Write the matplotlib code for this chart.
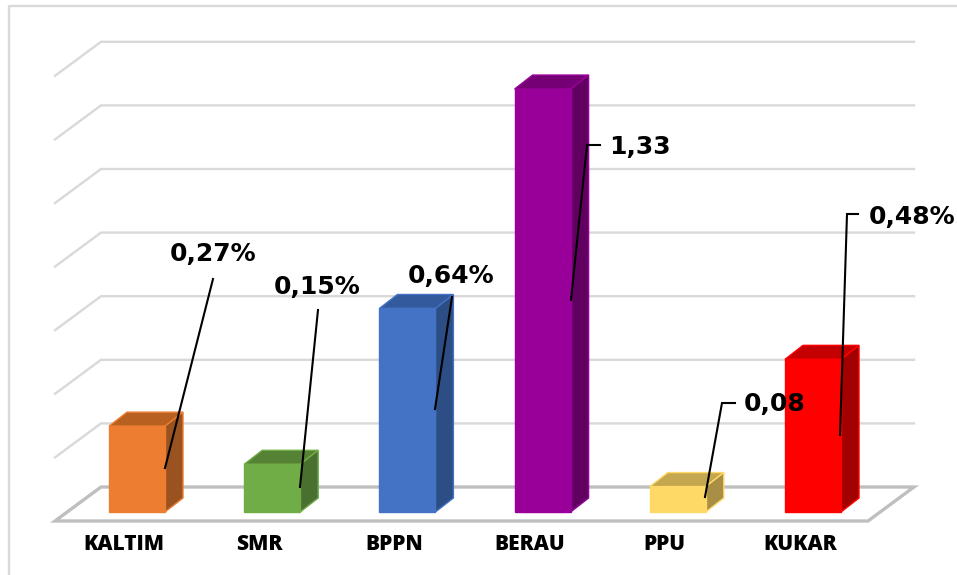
import matplotlib
matplotlib.use('Agg')
import matplotlib.pyplot as plt
from matplotlib.patches import Polygon
from matplotlib.transforms import IdentityTransform

categories = ['KALTIM', 'SMR', 'BPPN', 'BERAU', 'PPU', 'KUKAR']
values = [0.27, 0.15, 0.64, 1.33, 0.08, 0.48]
value_labels = ['0,27%', '0,15%', '0,64%', '1,33', '0,08', '0,48%']
gridlines = [0.0, 0.2, 0.4, 0.6, 0.8, 1.0, 1.2, 1.4]

front_colors = ['#ED7D31', '#70AD47', '#4472C4', '#990099', '#FFD966', '#FF0000']
top_colors = ['#B8601F', '#568235', '#335A9C', '#750075', '#C4A74E', '#C40000']
side_colors = ['#9A5220', '#497030', '#2C4E85', '#620062', '#A88F45', '#A30000']

W, H = 957, 575
X0, STEP = 137, 135.2   # pixel of first bar centre, pixels per category
Y0, SCALE = 512, 318    # pixel of value 0 on the front plane, pixels per unit


def x_units(p):
    return p / STEP


def y_units(p):
    return p / SCALE


fig = plt.figure(figsize=(W / 100, H / 100), dpi=100)
ax = fig.add_axes([0, 0, 1, 1])
ax.set_xlim(-X0 / STEP, (W - X0) / STEP)
ax.set_ylim(-(H - Y0) / SCALE, Y0 / SCALE)
ax.axis('off')

# back wall and floor, the wall sits 25px up and the floor runs out to the left
wall_dy = y_units(25)
left = x_units(101 - X0)
right = x_units(914 - X0)
slant_x = x_units(46)
slant_y = y_units(34)
for g in gridlines[1:]:
    ax.plot([left - slant_x, left, right], [g + wall_dy - slant_y, g + wall_dy, g + wall_dy],
            color='#D9D9D9', lw=1.7, solid_joinstyle='miter', zorder=1)
ax.add_patch(Polygon([(left - slant_x, wall_dy - slant_y), (left, wall_dy), (right, wall_dy),
                      (right - slant_x, wall_dy - slant_y)],
                     closed=True, fill=False, edgecolor='#BFBFBF', lw=2.4, zorder=1))

# bars: front face from ax.bar, top and side offset by the depth
bar_w = 56 / STEP
dx = x_units(18)
dy = y_units(14)
for i, v in enumerate(values):
    x1 = i - bar_w / 2
    x2 = i + bar_w / 2
    ax.add_patch(Polygon([(x1, v), (x2, v), (x2 + dx, v + dy), (x1 + dx, v + dy)],
                         facecolor=top_colors[i], edgecolor=front_colors[i], lw=1, zorder=3))
    ax.add_patch(Polygon([(x2, 0), (x2 + dx, dy), (x2 + dx, v + dy), (x2, v)],
                         facecolor=side_colors[i], edgecolor=front_colors[i], lw=1, zorder=3))
ax.bar(range(len(values)), values, width=bar_w, color=front_colors, edgecolor=front_colors, lw=1, zorder=4)

for i, name in enumerate(categories):
    ax.text(i - x_units(13), -y_units(32), name, ha='center', va='center', fontsize=15,
            family='Open Sans', weight='extra bold', color='black', zorder=6)

# leader lines and value labels are placed in pixels, measured from the top left
leaders = [
    [(165, 468), (213, 279)],
    [(300, 487), (318, 310)],
    [(435, 409), (452, 297)],
    [(571, 300), (587, 145), (600, 145)],
    [(705, 497), (722, 403), (735, 403)],
    [(840, 435), (847, 214), (858, 214)],
]
label_pos = [(213, 254), (317, 287), (451, 276), (640, 147), (775, 404), (912, 217)]

trans = IdentityTransform()
for pts, label, (lx, ly) in zip(leaders, value_labels, label_pos):
    ax.plot([p[0] for p in pts], [H - p[1] for p in pts], color='black', lw=1.5,
            transform=trans, zorder=5, solid_joinstyle='miter')
    ax.text(lx, H - ly, label, transform=trans, ha='center', va='center', fontsize=18,
            family='DejaVu Sans', weight='bold', color='black', zorder=6)

# outer frame
ax.plot([W, 9, 9], [H - 6, H - 6, 0], color='#D9D9D9', lw=1.7, transform=trans, zorder=1)

fig.savefig('out.png', dpi=100)
